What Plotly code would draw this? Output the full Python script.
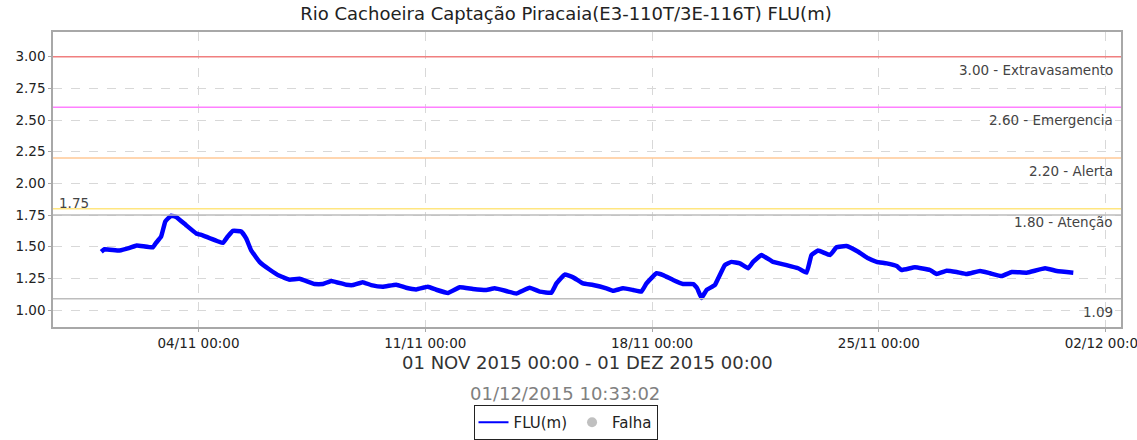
import plotly.graph_objects as go

# ---- data ----
times = [
    "2015-11-01 00:00", "2015-11-01 02:20", "2015-11-01 13:30", "2015-11-01 21:00",
    "2015-11-02 02:15", "2015-11-02 14:10", "2015-11-02 16:35", "2015-11-02 20:20",
    "2015-11-02 23:30", "2015-11-03 03:45", "2015-11-03 07:30", "2015-11-03 14:50",
    "2015-11-03 22:20", "2015-11-04 03:10", "2015-11-04 18:00", "2015-11-04 21:40",
    "2015-11-05 01:30", "2015-11-05 07:40", "2015-11-05 11:20", "2015-11-05 15:05",
    "2015-11-05 21:15", "2015-11-06 04:35", "2015-11-06 12:00", "2015-11-06 19:25",
    "2015-11-07 02:50", "2015-11-07 14:00", "2015-11-07 20:10", "2015-11-08 02:25",
    "2015-11-08 13:25", "2015-11-08 18:20", "2015-11-09 01:40", "2015-11-09 07:55",
    "2015-11-09 16:30", "2015-11-10 02:30", "2015-11-10 09:50", "2015-11-10 17:20",
    "2015-11-11 01:55", "2015-11-11 08:10", "2015-11-11 16:50", "2015-11-12 01:30",
    "2015-11-12 11:15", "2015-11-12 21:15", "2015-11-13 03:25", "2015-11-13 12:00",
    "2015-11-13 19:25", "2015-11-14 05:20", "2015-11-14 12:45", "2015-11-14 21:25",
    "2015-11-15 01:10", "2015-11-15 07:15", "2015-11-15 13:30", "2015-11-15 20:50",
    "2015-11-16 04:20", "2015-11-16 14:10", "2015-11-16 19:10", "2015-11-17 02:30",
    "2015-11-17 09:55", "2015-11-17 16:05", "2015-11-17 19:50", "2015-11-18 03:15",
    "2015-11-18 08:10", "2015-11-18 15:35", "2015-11-18 23:00", "2015-11-19 06:30",
    "2015-11-19 09:25", "2015-11-19 12:35", "2015-11-19 16:20", "2015-11-19 22:30",
    "2015-11-20 01:00", "2015-11-20 05:55", "2015-11-20 10:50", "2015-11-20 17:00",
    "2015-11-20 23:10", "2015-11-21 02:50", "2015-11-21 09:05", "2015-11-21 17:40",
    "2015-11-22 03:35", "2015-11-22 12:10", "2015-11-22 18:25", "2015-11-22 22:05",
    "2015-11-23 02:55", "2015-11-23 11:45", "2015-11-23 16:35", "2015-11-24 00:00",
    "2015-11-24 08:40", "2015-11-24 16:05", "2015-11-24 22:20", "2015-11-25 05:45",
    "2015-11-25 13:10", "2015-11-25 16:50", "2015-11-26 02:40", "2015-11-26 13:50",
    "2015-11-26 18:45", "2015-11-27 02:10", "2015-11-27 09:35", "2015-11-27 17:00",
    "2015-11-28 02:55", "2015-11-28 10:20", "2015-11-28 19:00", "2015-11-29 02:25",
    "2015-11-29 13:30", "2015-11-30 03:05", "2015-11-30 11:45", "2015-12-01 00:00",
]
flu = [
    1.46, 1.48, 1.47, 1.49,
    1.51, 1.495, 1.53, 1.58,
    1.70, 1.745, 1.735, 1.67,
    1.605, 1.59, 1.53, 1.58,
    1.625, 1.62, 1.565, 1.47,
    1.38, 1.32, 1.27, 1.24,
    1.247, 1.205, 1.205, 1.23,
    1.20, 1.197, 1.22, 1.197,
    1.184, 1.20, 1.176, 1.163,
    1.184, 1.16, 1.135, 1.18,
    1.166, 1.158, 1.171, 1.15,
    1.13, 1.176, 1.145, 1.137,
    1.21, 1.28, 1.258, 1.21,
    1.197, 1.171, 1.152, 1.171,
    1.158, 1.145, 1.21, 1.29,
    1.276, 1.237, 1.205, 1.205,
    1.171, 1.095, 1.158, 1.197,
    1.25, 1.355, 1.38, 1.368,
    1.33, 1.38, 1.434, 1.38,
    1.355, 1.33, 1.295, 1.434,
    1.47, 1.434, 1.495, 1.505,
    1.46, 1.408, 1.38, 1.368,
    1.347, 1.316, 1.337, 1.316,
    1.284, 1.31, 1.30, 1.284,
    1.308, 1.29, 1.268, 1.30,
    1.295, 1.33, 1.308, 1.295,
]

level_values = [3.00, 2.60, 2.20, 1.80]
level_labels = ["3.00 - Extravasamento", "2.60 - Emergencia", "2.20 - Alerta", "1.80 - Atenção"]
level_colors = ["#f07f7f", "#ff80ff", "#ffc896", "#ffe680"]

ref_values = [1.75, 1.09]
ref_labels = ["1.75", "1.09"]

y_ticks = [1.00, 1.25, 1.50, 1.75, 2.00, 2.25, 2.50, 2.75, 3.00]
x_tick_vals = ["2015-11-04", "2015-11-11", "2015-11-18", "2015-11-25", "2015-12-02"]
x_range = ["2015-10-30 12:15", "2015-12-02 11:20"]
y_range = [0.866, 3.195]

title_text = "Rio Cachoeira Captação Piracaia(E3-110T/3E-116T) FLU(m)"
period_text = "01 NOV 2015 00:00 - 01 DEZ 2015 00:00"
stamp_text = "01/12/2015 10:33:02"

FONT = "DejaVu Sans"

fig = go.Figure()

# data line (its legend entry is drawn by a thin legend-only twin, as in the reference)
fig.add_trace(go.Scatter(
    x=times, y=flu, mode="lines", name="FLU(m)", showlegend=False, legendgroup="flu",
    line=dict(color="#0000ff", width=4.5, shape="spline", smoothing=0.3),
))
fig.add_trace(go.Scatter(
    x=[None], y=[None], mode="lines", name="FLU(m)", legendgroup="flu",
    line=dict(color="#0000ff", width=2),
))
fig.add_trace(go.Scatter(
    x=[None], y=[None], mode="markers", name="Falha",
    marker=dict(color="#c0c0c0", size=10, symbol="circle"),
))

shapes = []
annotations = []
for v, lab, c in zip(level_values, level_labels, level_colors):
    shapes.append(dict(type="line", xref="paper", x0=0, x1=1, yref="y", y0=v, y1=v,
                       line=dict(color=c, width=1.5), layer="above"))
    annotations.append(dict(xref="paper", x=0.994, yref="y", y=v, text=lab,
                            showarrow=False, xanchor="right", yanchor="top", yshift=-3,
                            font=dict(family=FONT, size=13.5, color="#444444")))

for v, lab, pos in zip(ref_values, ref_labels, ["left", "right"]):
    shapes.append(dict(type="line", xref="paper", x0=0, x1=1, yref="y", y0=v, y1=v,
                       line=dict(color="#bdbdbd", width=1.5), layer="above"))
    if pos == "left":
        annotations.append(dict(xref="paper", x=0.004, yref="y", y=v, text=lab,
                                showarrow=False, xanchor="left", yanchor="bottom", yshift=2,
                                font=dict(family=FONT, size=13.5, color="#444444")))
    else:
        annotations.append(dict(xref="paper", x=0.994, yref="y", y=v, text=lab,
                                showarrow=False, xanchor="right", yanchor="top", yshift=-3,
                                font=dict(family=FONT, size=13.5, color="#444444")))

annotations.append(dict(xref="paper", x=0.5, yref="paper", y=-0.122, text=period_text,
                        showarrow=False, xanchor="center", yanchor="middle",
                        font=dict(family=FONT, size=18, color="#333333")))
annotations.append(dict(xref="paper", x=0.479, yref="paper", y=-0.2245, text=stamp_text,
                        showarrow=False, xanchor="center", yanchor="middle",
                        font=dict(family=FONT, size=18, color="#808080")))

fig.update_layout(
    width=1137, height=440,
    margin=dict(l=53, r=16, t=32, b=113, autoexpand=False),
    paper_bgcolor="white", plot_bgcolor="white",
    title=dict(text=title_text, x=566 / 1137, xref="container", xanchor="center",
               y=1 - 14 / 440, yref="container", yanchor="middle",
               font=dict(family=FONT, size=18, color="#222222")),
    font=dict(family=FONT),
    shapes=shapes,
    annotations=annotations,
    showlegend=True,
    legend=dict(orientation="h", x=565.5 / 1137, xref="container", xanchor="center",
                y=1 - 405 / 440, yref="container", yanchor="top",
                bordercolor="#222222", borderwidth=1, bgcolor="white",
                font=dict(family=FONT, size=15, color="#222222"),
                itemwidth=30, tracegroupgap=0),
    xaxis=dict(
        type="date", range=x_range, tickvals=x_tick_vals, tickformat="%d/%m %H:%M",
        showgrid=True, gridcolor="#d8d8d8", griddash="dash", gridwidth=1,
        showline=True, linecolor="#a8a8a8", linewidth=1.5, mirror=True,
        ticks="outside", ticklen=3, tickcolor="#a8a8a8",
        tickfont=dict(family=FONT, size=13.5, color="#222222"),
        ticklabeloverflow="allow", zeroline=False, automargin=False,
    ),
    yaxis=dict(
        range=y_range, tickvals=y_ticks, tickformat=".2f",
        showgrid=True, gridcolor="#d8d8d8", griddash="dash", gridwidth=1,
        showline=True, linecolor="#a8a8a8", linewidth=1.5, mirror=True,
        ticks="outside", ticklen=3, tickcolor="#a8a8a8",
        tickfont=dict(family=FONT, size=13.5, color="#222222"),
        zeroline=False, automargin=False,
    ),
)

fig.write_html(
    "out.html",
    config={"displayModeBar": False},
    post_script="document.body.style.margin='0px';document.body.style.overflow='hidden';",
)
